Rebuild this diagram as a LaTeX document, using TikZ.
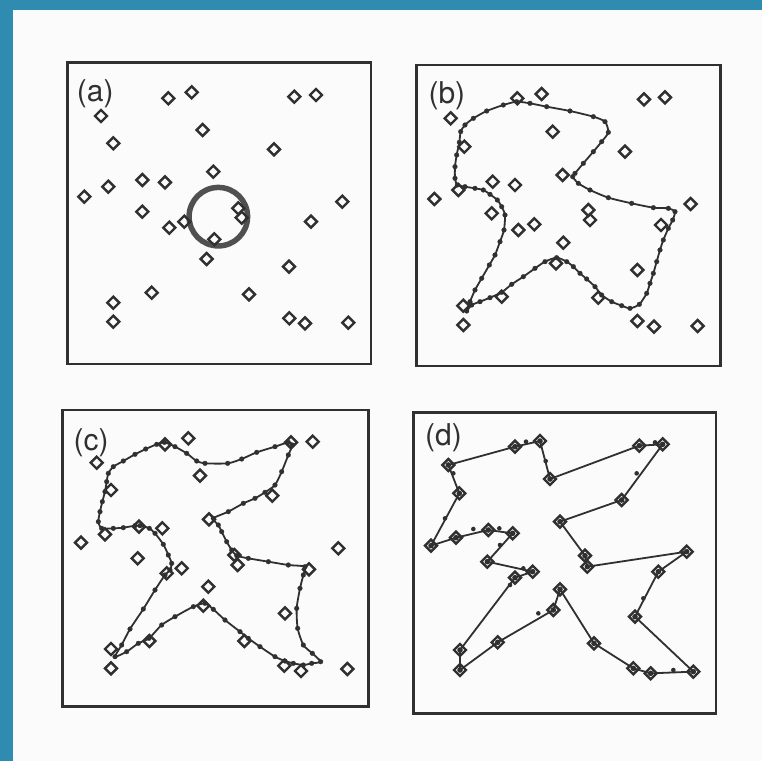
\documentclass[tikz,border=0pt]{standalone}
\usepackage{fontspec}
\setmainfont{TeX Gyre Heros}
\usetikzlibrary{shapes.geometric}
\definecolor{teal1}{HTML}{2F8CB0}
\definecolor{ink}{HTML}{303030}
\definecolor{ringc}{HTML}{505050}
\definecolor{paper}{HTML}{FBFBFB}
\begin{document}
\begin{tikzpicture}[x=1pt,y=-1pt,
  city/.style={diamond, draw=ink, line width=2.4pt, minimum size=13pt, inner sep=0pt},
  panelbox/.style={draw=ink, line width=2.4pt},
  net/.style={draw=ink, line width=1.8pt, line join=round},
  netdots/.style={mark=*, mark size=2.4pt, mark options={fill=ink, draw=ink, line width=0.2pt}},
  lab/.style={anchor=west, inner sep=0pt, text=ink, font=\fontsize{30}{36}\selectfont}]
\fill[paper] (0,0) rectangle (762,761);
\useasboundingbox (0,0) rectangle (762,761);
\fill[teal1] (0,0) rectangle (762,10);
\fill[teal1] (0,0) rectangle (13,761);

% ---------------- panel (a)
\begin{scope}[shift={(55,55)}, x=0.33333pt, y=-0.33333pt]
  \draw[panelbox] (38,22) rectangle (948,927);
  \node[lab] (la) at (65,117) {(a)};
  \node[circle, draw=ringc, line width=5.5pt, minimum size=58.5pt, inner sep=0pt] (ring) at (490,485) {};
  \foreach \p [count=\i] in {(340,130),(410,112),(718,125),(783,120),(138,183),(443,225),(175,265),(657,283),(475,350),(262,375),(330,382),(160,395),(88,425),(862,440),(262,470),(550,460),(560,488),(388,500),(343,518),(768,500),(478,553),(455,612),(702,635),(290,713),(582,718),(175,743),(175,800),(703,790),(750,805),(880,803)}
    \node[city] (a\i) at \p {};
\end{scope}

% ---------------- panel (b)
\begin{scope}[shift={(400,55)}, x=0.33333pt, y=-0.33333pt]
  \draw[panelbox] (50,30) rectangle (962,933);
  \node[lab] (lb) at (85,122) {(b)};
  \draw[net] plot[smooth cycle, tension=0.4, netdots] coordinates {(350,140) (390,145) (440,155) (510,168) (580,185) (615,200) (625,232) (605,260) (580,290) (550,325) (525,355) (518,365) (535,385) (570,405) (625,428) (695,445) (760,458) (805,460) (825,470) (818,495) (805,520) (790,555) (780,585) (770,620) (760,655) (750,685) (740,715) (718,748) (690,760) (665,752) (635,740) (605,720) (585,695) (560,672) (540,655) (520,635) (500,620) (470,608) (435,620) (405,640) (370,665) (335,688) (305,712) (270,728) (240,740) (215,750) (200,768) (210,740) (225,705) (245,670) (268,630) (285,600) (300,560) (312,525) (315,480) (305,455) (292,435) (270,418) (250,405) (225,400) (195,395) (172,390) (165,370) (165,335) (170,300) (178,262) (182,230) (195,210) (220,190) (260,168) (310,150)};
  \foreach \p [count=\i] in {(352,130),(425,117),(732,133),(795,127),(152,190),(458,230),(193,275),(675,290),(488,360),(278,380),(345,390),(175,405),(103,432),(872,447),(275,475),(565,465),(570,495),(403,508),(355,525),(783,510),(490,563),(468,625),(712,645),(305,725),(595,728),(190,752),(190,810),(712,798),(762,815),(893,813)}
    \node[city] (b\i) at \p {};
\end{scope}

% ---------------- panel (c)
\begin{scope}[shift={(55,355)}, x=0.33333pt, y=-0.33333pt]
  \draw[panelbox] (22,165) rectangle (940,1055);
  \node[lab] (lc) at (55,262) {(c)};
  \draw[net] plot[smooth cycle, tension=0.4, netdots] coordinates {(160,355) (175,335) (205,318) (240,298) (272,282) (305,268) (328,262) (360,275) (395,295) (425,318) (450,325) (518,325) (560,312) (605,292) (660,275) (700,262) (712,270) (700,300) (680,350) (660,390) (630,412) (600,430) (565,445) (520,470) (475,490) (490,510) (500,530) (515,560) (530,585) (545,602) (580,610) (640,620) (700,630) (750,635) (745,660) (735,700) (725,760) (728,820) (745,870) (772,895) (797,920) (770,925) (745,930) (715,925) (690,918) (660,905) (615,875) (580,850) (555,830) (510,795) (475,763) (450,745) (415,755) (360,785) (320,810) (282,850) (250,865) (215,890) (180,905) (200,870) (225,822) (265,762) (300,705) (330,660) (345,645) (350,625) (340,600) (325,568) (300,535) (283,520) (255,512) (240,512) (205,518) (175,520) (140,520) (130,500) (135,470) (142,440) (150,410) (155,380)};
  \foreach \p [count=\i] in {(330,268),(400,250),(708,262),(773,260),(125,323),(435,362),(168,405),(652,422),(462,493),(252,515),(322,520),(150,538),(78,563),(850,580),(248,610),(538,600),(548,630),(380,640),(335,655),(762,643),(460,695),(445,752),(690,775),(283,858),(568,858),(168,882),(168,940),(688,932),(738,948),(877,942)}
    \node[city] (c\i) at \p {};
\end{scope}

% ---------------- panel (d)
\begin{scope}[shift={(400,355)}, x=0.33333pt, y=-0.33333pt]
  \draw[panelbox] (40,172) rectangle (948,1075);
  \node[lab] (ld) at (75,248) {(d)};
  \foreach \p [count=\i] in {(345,275),(420,258),(718,272),(788,268),(145,330),(450,372),(178,415),(665,435),(480,500),(265,525),(338,535),(168,548),(93,572),(860,590),(262,620),(555,602),(562,635),(398,650),(345,668),(775,650),(480,703),(460,765),(705,785),(293,862),(582,865),(180,885),(180,945),(700,940),(752,955),(880,950)}
    \node[city] (d\i) at \p {};
  \draw[net] (d5.center) -- (d1.center) -- (d2.center) -- (d6.center) -- (d3.center) -- (d4.center) -- (d8.center) -- (d9.center) -- (d16.center) -- (d17.center) -- (d14.center) -- (d20.center) -- (d23.center) -- (d30.center) -- (d29.center) -- (d28.center) -- (d25.center) -- (d21.center) -- (d22.center) -- (d24.center) -- (d27.center) -- (d26.center) -- (d19.center) -- (d18.center) -- (d15.center) -- (d11.center) -- (d10.center) -- (d12.center) -- (d13.center) -- (d7.center) -- cycle;
  \foreach \i in {1,...,30} \fill[ink] (d\i.center) circle (2.8pt);
  \foreach \p in {(378,260),(437,318),(765,262),(710,355),(730,730),(820,945),(415,775),(370,640),(330,690),(298,520),(220,522),(135,490),(160,355),(300,570)}
    \fill[ink] \p circle (2.3pt);
\end{scope}
\end{tikzpicture}
\end{document}
